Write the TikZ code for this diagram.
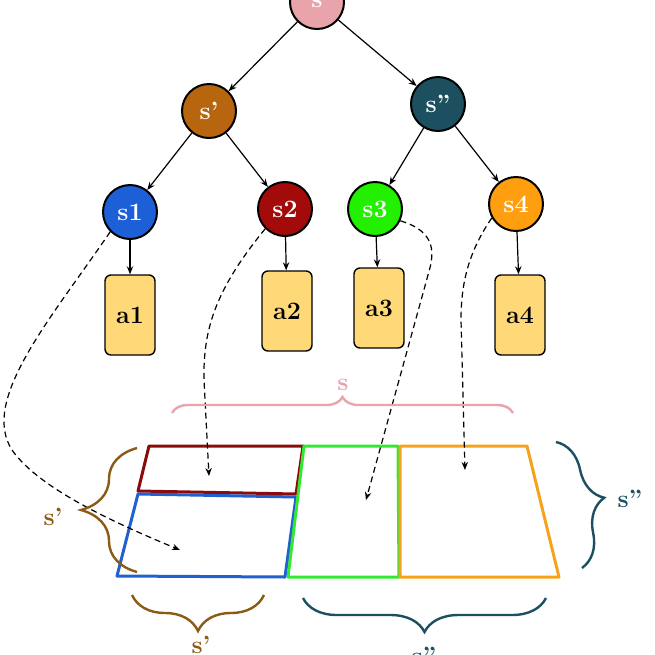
\documentclass[tikz,border=0pt]{standalone}
\usetikzlibrary{arrows.meta,decorations.pathreplacing}
\definecolor{cpink}{HTML}{E9A3AA}
\definecolor{cbrown}{HTML}{B8650F}
\definecolor{cbrace}{HTML}{8B5A14}
\definecolor{cteal}{HTML}{1C5060}
\definecolor{cblue}{HTML}{1C5FD6}
\definecolor{cred}{HTML}{A30B0B}
\definecolor{cgreen}{HTML}{22F000}
\definecolor{corange}{HTML}{FF9E0F}
\definecolor{afill}{HTML}{FFD878}
\definecolor{rred}{HTML}{8B0A0A}
\definecolor{rblue}{HTML}{2060D0}
\definecolor{rgreen}{HTML}{33E833}
\definecolor{rorange}{HTML}{F7A21B}
\begin{document}
\begin{tikzpicture}[x=0.5pt,y=-0.5pt,
  lbl/.style={font=\fontsize{12.5}{15}\selectfont\bfseries},
  state/.style={circle, draw=black, line width=1pt, minimum size=27pt, inner sep=0pt, text=white, lbl},
  act/.style={rectangle, rounded corners=3pt, draw=black, line width=0.7pt, fill=afill, minimum width=25pt, minimum height=40pt, inner sep=0pt, lbl},
  edge/.style={-{Stealth[length=4pt,width=3.2pt]}, line width=0.6pt},
  dedge/.style={dash pattern=on 3pt off 2pt, -{Stealth[length=4pt,width=3.2pt]}, line width=0.6pt},
  part/.style={line width=1.5pt, line join=round},
  brc/.style={decorate, line width=1.2pt}
]
\useasboundingbox (0,0) rectangle (655,655);

% tree
\node[state, fill=cpink] (s) at (317,2) {s};
\node[state, fill=cbrown] (sp) at (209,111) {s'};
\node[state, fill=cteal] (spp) at (438,104) {s''};
\node[state, fill=cblue] (s1) at (130,212) {s1};
\node[state, fill=cred] (s2) at (285,209) {s2};
\node[state, fill=cgreen] (s3) at (375,209) {s3};
\node[state, fill=corange] (s4) at (516,204) {s4};
\node[act] (a1) at (130,315) {a1};
\node[act] (a2) at (287,311) {a2};
\node[act] (a3) at (379,308) {a3};
\node[act] (a4) at (520,315) {a4};

\draw[edge] (s) -- (sp);
\draw[edge] (s) -- (spp);
\draw[edge] (sp) -- (s1);
\draw[edge] (sp) -- (s2);
\draw[edge] (spp) -- (s3);
\draw[edge] (spp) -- (s4);
\draw[edge] (s1) -- (a1);
\draw[edge] (s2) -- (a2);
\draw[edge] (s3) -- (a3);
\draw[edge] (s4) -- (a4);

% partition
\draw[part, rred] (149,446) -- (303,446) -- (296,494) -- (138,491) -- cycle;
\draw[part, rblue] (138,494) -- (296,497) -- (285,577) -- (117,576) -- cycle;
\draw[part, rgreen] (304,446) -- (398,446) -- (399,577) -- (288,577) -- cycle;
\draw[part, rorange] (400,446) -- (527,446) -- (559,577) -- (400,577) -- cycle;

% targets of dashed arrows
\coordinate (t1) at (180,550);
\coordinate (t2) at (209,476);
\coordinate (t3) at (366,500);
\coordinate (t4) at (465,470);

\draw[dedge] (s1.225) .. controls (50,320) and (-20,400) .. (12,450) .. controls (40,490) and (120,525) .. (t1);
\draw[dedge] (s2.225) .. controls (215,290) and (203,330) .. (204,380) -- (t2);
\draw[dedge] (s3.-25) .. controls (438,232) and (434,255) .. (428,275) -- (t3);
\draw[dedge] (s4.210) .. controls (470,250) and (461,280) .. (461,320) -- (t4);

% braces
\coordinate (b1a) at (172,413); \coordinate (b1b) at (513,413);
\draw[brc, cpink, decoration={brace, amplitude=8pt}] (b1a) -- (b1b);
\node[lbl, text=cpink] (ls) at (343,385) {s};

\coordinate (b2a) at (137,572); \coordinate (b2b) at (137,448);
\draw[brc, cbrace, decoration={brace, amplitude=28pt}] (b2a) -- (b2b);
\node[lbl, text=cbrace] (lsp1) at (53,517) {s'};

\coordinate (b3a) at (556,442); \coordinate (b3b) at (582,568);
\draw[brc, cteal, decoration={brace, amplitude=18pt}] (b3a) -- (b3b);
\node[lbl, text=cteal] (lspp1) at (630,499) {s''};

\coordinate (b4a) at (264,595); \coordinate (b4b) at (132,595);
\draw[brc, cbrace, decoration={brace, amplitude=18pt}] (b4a) -- (b4b);
\node[lbl, text=cbrace] (lsp2) at (201,645) {s'};

\coordinate (b5a) at (546,598); \coordinate (b5b) at (303,598);
\draw[brc, cteal, decoration={brace, amplitude=17pt}] (b5a) -- (b5b);
\node[lbl, text=cteal] (lspp2) at (424,656) {s''};
\end{tikzpicture}
\end{document}
